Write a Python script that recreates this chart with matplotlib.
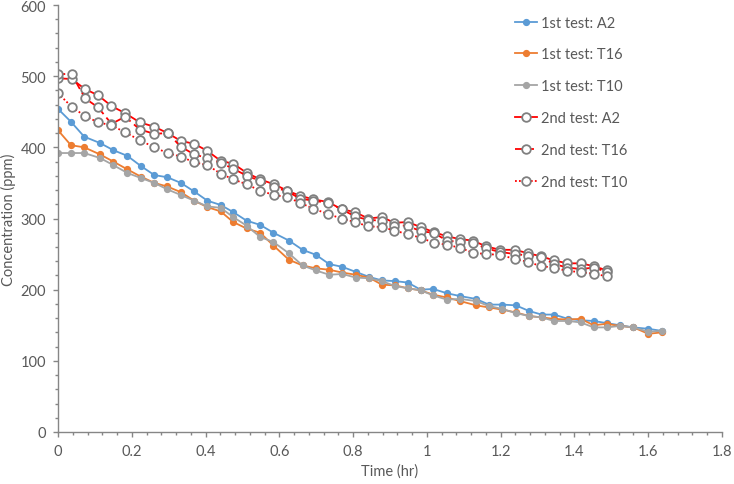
import matplotlib
matplotlib.use("Agg")
import matplotlib.pyplot as plt
from matplotlib.ticker import MultipleLocator

plt.rcParams['font.family'] = ['Lato', 'DejaVu Sans']

# 1st test time (hr)
t1 = [0.000, 0.035, 0.071, 0.114, 0.150, 0.188, 0.224, 0.261, 0.296, 0.333,
      0.369, 0.405, 0.441, 0.475, 0.511, 0.548, 0.584, 0.626, 0.663, 0.699,
      0.735, 0.771, 0.807, 0.843, 0.878, 0.914, 0.948, 0.983, 1.017, 1.054,
      1.090, 1.133, 1.168, 1.204, 1.241, 1.277, 1.311, 1.345, 1.382, 1.417,
      1.452, 1.487, 1.523, 1.560, 1.600, 1.638]

a2_1 = [454, 436, 415, 406, 396, 388, 374, 361, 358, 350,
        338, 325, 319, 309, 297, 291, 280, 269, 256, 249,
        236, 232, 225, 218, 213, 212, 210, 200, 201, 195,
        191, 187, 179, 179, 178, 170, 165, 165, 159, 157,
        156, 153, 150, 147, 145, 142]

t16_1 = [424, 403, 400, 390, 380, 369, 359, 350, 345, 337,
         325, 316, 310, 295, 286, 280, 262, 242, 234, 230,
         228, 224, 221, 217, 207, 206, 202, 199, 193, 189,
         184, 178, 175, 172, 168, 163, 161, 159, 158, 159,
         150, 152, 149, 147, 138, 140]

t10_1 = [392, 392, 392, 385, 375, 364, 357, 350, 341, 333,
         325, 317, 315, 302, 290, 274, 267, 251, 234, 227,
         221, 222, 217, 216, 212, 205, 202, 199, 192, 186,
         187, 184, 177, 173, 167, 163, 161, 156, 156, 154,
         147, 147, 149, 147, 141, 142]

# 2nd test time (hr)
t2 = [0.000, 0.037, 0.073, 0.109, 0.145, 0.182, 0.222, 0.261, 0.297, 0.333,
      0.369, 0.405, 0.441, 0.475, 0.512, 0.548, 0.586, 0.622, 0.656, 0.692,
      0.733, 0.769, 0.805, 0.841, 0.878, 0.912, 0.948, 0.983, 1.018, 1.054,
      1.090, 1.124, 1.160, 1.198, 1.239, 1.275, 1.309, 1.345, 1.381, 1.417,
      1.453, 1.488]

a2_2 = [497, 496, 482, 473, 458, 448, 435, 429, 420, 409,
        405, 395, 381, 377, 364, 355, 348, 339, 332, 327,
        323, 313, 309, 300, 302, 294, 295, 288, 281, 275,
        271, 269, 261, 256, 256, 251, 247, 241, 237, 237,
        233, 227]

t16_2 = [503, 503, 469, 456, 433, 443, 425, 419, 420, 401,
         390, 385, 378, 370, 360, 353, 344, 338, 328, 325,
         322, 313, 303, 298, 297, 290, 290, 282, 280, 269,
         267, 266, 258, 253, 250, 248, 246, 236, 231, 229,
         231, 225]

t10_2 = [476, 457, 444, 435, 431, 421, 410, 400, 392, 387,
         379, 375, 363, 355, 348, 339, 333, 330, 322, 314,
         306, 300, 295, 289, 288, 283, 278, 273, 266, 263,
         259, 252, 250, 249, 243, 239, 233, 231, 226, 225,
         222, 219]

labels = ["1st test: A2", "1st test: T16", "1st test: T10",
          "2nd test: A2", "2nd test: T16", "2nd test: T10"]

fig = plt.figure(figsize=(7.34, 4.85), dpi=100)
ax = fig.add_axes([58/734, 1-433/485, (722-58)/734, (433-6)/485])

lw = 1.3
ax.plot(t1, a2_1, color='#5B9BD5', lw=lw, marker='o', ms=4.2, label=labels[0])
ax.plot(t1, t16_1, color='#ED7D31', lw=lw, marker='o', ms=4.2, label=labels[1])
ax.plot(t1, t10_1, color='#A5A5A5', lw=lw, marker='o', ms=4.2, label=labels[2])

mk = dict(marker='o', ms=6.2, mfc='white', mec='#7F7F7F', mew=1.3)
ax.plot(t2, a2_2, color='#FF0000', lw=lw, ls='-', label=labels[3], **mk)
ax.plot(t2, t16_2, color='#FF0000', lw=lw, ls=(0, (4, 2.5)), label=labels[4], **mk)
ax.plot(t2, t10_2, color='#FF0000', lw=lw, ls=(0, (1, 1.2)), label=labels[5], **mk)

ax.set_xlim(0, 1.8)
ax.set_ylim(0, 600)
ax.xaxis.set_minor_locator(MultipleLocator(0.04))
ax.yaxis.set_major_locator(MultipleLocator(100))
ax.yaxis.set_minor_locator(MultipleLocator(20))
ax.set_xticks([0, 0.2, 0.4, 0.6, 0.8, 1.0, 1.2, 1.4, 1.6, 1.8])
ax.set_xticklabels(["0", "0.2", "0.4", "0.6", "0.8", "1", "1.2", "1.4", "1.6", "1.8"])

for s in ['top', 'right']:
    ax.spines[s].set_visible(False)
for s in ['left', 'bottom']:
    ax.spines[s].set_color('#868686')
    ax.spines[s].set_linewidth(1.0)

fs = 10.5
ax.tick_params(which='major', direction='out', length=3.5, width=1.0, color='#868686',
               labelsize=fs, labelcolor='#595959', pad=5)
ax.tick_params(which='minor', direction='out', length=2.2, width=1.0, color='#868686')

ax.set_xlabel("Time (hr)", fontsize=fs, color='#595959', labelpad=4)
ax.set_ylabel("Concentration (ppm)", fontsize=fs, color='#595959', labelpad=3)

leg = ax.legend(loc='upper left', bbox_to_anchor=(503/734, 1-5/485),
                bbox_transform=fig.transFigure, frameon=False, fontsize=fs,
                labelspacing=1.22, handlelength=1.5, handletextpad=0.3,
                borderpad=0.3)
for txt in leg.get_texts():
    txt.set_color('#595959')

fig.savefig("out.png", dpi=100)
